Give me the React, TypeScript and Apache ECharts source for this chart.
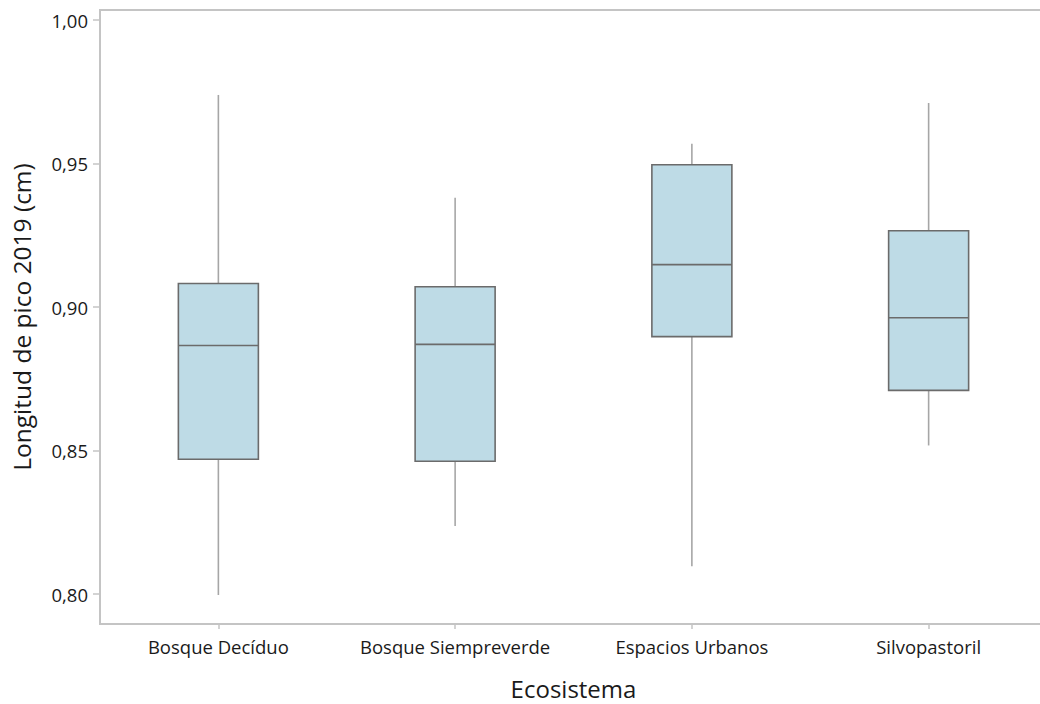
import React, { useEffect, useRef } from "react";
import * as echarts from "echarts";

const categories = ["Bosque Decíduo", "Bosque Siempreverde", "Espacios Urbanos", "Silvopastoril"];
const minValues = [0.7997, 0.8237, 0.8097, 0.8518];
const q1Values = [0.847, 0.8463, 0.8897, 0.871];
const medianValues = [0.8866, 0.887, 0.9148, 0.8963];
const q3Values = [0.9082, 0.9071, 0.9496, 0.9266];
const maxValues = [0.9739, 0.9381, 0.9569, 0.9711];
const yTicks = [0.8, 0.85, 0.9, 0.95, 1.0];

export default function App() {
  const ref = useRef<HTMLDivElement>(null);
  useEffect(() => {
    document.body.style.margin = "0";
    const chart = echarts.init(ref.current!, null, { renderer: "svg" });
    const font = "'Open Sans', 'Noto Sans', sans-serif";
    const boxData = categories.map((_, i) => [q1Values[i], q1Values[i], medianValues[i], q3Values[i], q3Values[i]]);
    const whiskerData = categories.map((_, i) => [i, minValues[i], q1Values[i], q3Values[i], maxValues[i]]);
    chart.setOption({
      animation: false,
      backgroundColor: "#ffffff",
      grid: {
        left: 100,
        top: 10,
        bottom: 80,
        right: -7,
        outerBoundsMode: "none",
        containLabel: false,
        show: true,
        borderColor: "#c4c4c4",
        borderWidth: 2,
      },
      xAxis: {
        type: "category",
        data: categories,
        name: "Ecosistema",
        nameLocation: "middle",
        nameGap: 52,
        nameTextStyle: { fontFamily: font, fontSize: 24, lineHeight: 24, color: "#1a1a1a" },
        axisLine: { show: true, lineStyle: { color: "#c4c4c4", width: 2 } },
        axisTick: { show: true, alignWithLabel: true, length: 5, lineStyle: { color: "#c4c4c4", width: 1.5 } },
        axisLabel: { fontFamily: font, fontSize: 18.5, color: "#1a1a1a", margin: 13, interval: 0, hideOverlap: false },
        splitLine: { show: false },
      },
      yAxis: {
        type: "value",
        min: 0.7896,
        max: 1.0035,
        name: "Longitud de pico 2019 (cm)",
        nameLocation: "middle",
        nameGap: 66,
        nameTextStyle: { fontFamily: font, fontSize: 24.5, color: "#1a1a1a" },
        axisLine: { show: true, lineStyle: { color: "#c4c4c4", width: 2 } },
        axisTick: { show: true, length: 7, customValues: yTicks, lineStyle: { color: "#c4c4c4", width: 1.5 } },
        axisLabel: {
          fontFamily: font,
          fontSize: 18.5,
          color: "#1a1a1a",
          margin: 12,
          customValues: yTicks,
          formatter: (v: number) => v.toFixed(2).replace(".", ","),
        },
        splitLine: { show: false },
      },
      series: [
        {
          type: "custom",
          z: 1,
          data: whiskerData,
          encode: { x: 0, y: [1, 2, 3, 4] },
          renderItem: (params: any, api: any) => {
            const x = api.value(0);
            const pMin = api.coord([x, api.value(1)]);
            const pQ1 = api.coord([x, api.value(2)]);
            const pQ3 = api.coord([x, api.value(3)]);
            const pMax = api.coord([x, api.value(4)]);
            const style = { stroke: "#a6a6a6", lineWidth: 1.6 };
            return {
              type: "group",
              children: [
                { type: "line", shape: { x1: pMin[0], y1: pMin[1], x2: pQ1[0], y2: pQ1[1] }, style },
                { type: "line", shape: { x1: pQ3[0], y1: pQ3[1], x2: pMax[0], y2: pMax[1] }, style },
              ],
            };
          },
        },
        {
          type: "boxplot",
          z: 2,
          data: boxData,
          boxWidth: [80, 80],
          itemStyle: { color: "#bedbe6", borderColor: "#6b6b6b", borderWidth: 1.6 },
        },
      ],
    });
    return () => chart.dispose();
  }, []);
  return <div ref={ref} style={{ width: 1040, height: 704 }} />;
}
